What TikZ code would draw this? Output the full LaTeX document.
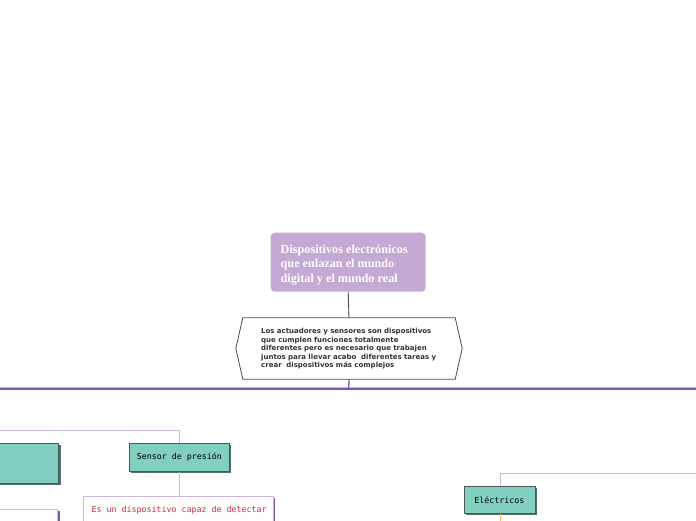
\documentclass[tikz,border=0pt]{standalone}
\usepackage{fontspec}
\setmainfont{Liberation Serif}
\newfontfamily\hexfont{DejaVu Sans}
\newfontfamily\monofont{DejaVu Sans Mono}
\usetikzlibrary{shadows}
\definecolor{rootfill}{HTML}{C3A9D4}
\definecolor{tealfill}{HTML}{80CFC1}
\definecolor{tealborder}{HTML}{4A5855}
\definecolor{tealshadow}{HTML}{56706B}
\definecolor{lav}{HTML}{CDB6E0}
\definecolor{purp}{HTML}{7E57B0}
\definecolor{hexborder}{HTML}{4A4A4A}
\definecolor{redtxt}{HTML}{D9263F}
\definecolor{orangeln}{HTML}{F6C46F}
\definecolor{darktxt}{HTML}{333333}
\tikzset{
  rootbox/.style={fill=rootfill, draw=none, rounded corners=4pt, inner sep=0pt, minimum width=155pt, minimum height=59pt},
  roottext/.style={text=white, font=\fontsize{12.2}{14.5}\selectfont\bfseries, align=left, inner sep=0pt},
  hexbox/.style={inner sep=0pt, minimum width=226pt, minimum height=61pt},
  hextext/.style={text=darktxt, font=\hexfont\fontsize{7.0}{8.5}\selectfont\bfseries, align=left, inner sep=0pt, text width=200pt},
  tealbox/.style={draw=tealborder, fill=tealfill, line width=0.8pt, inner sep=0pt, font=\monofont\fontsize{8.3}{10}\selectfont,
    drop shadow={shadow xshift=2pt, shadow yshift=-2pt, fill=tealshadow, opacity=1}},
  descbox/.style={draw=lav, fill=white, line width=0.8pt, inner sep=0pt,
    drop shadow={shadow xshift=2pt, shadow yshift=-2pt, fill=purp, opacity=1}},
  desctext/.style={text=redtxt, font=\monofont\fontsize{8.3}{12}\selectfont, inner sep=0pt},
  lavline/.style={draw=lav, line width=1pt},
  purpline/.style={draw=purp, line width=1.3pt},
  grayline/.style={draw=hexborder, line width=0.9pt},
}
\begin{document}
\begin{tikzpicture}[x=1pt,y=-1pt]
\useasboundingbox (0,0) rectangle (696,520);
\clip (0,0) rectangle (696,520);
\fill[white] (0,0) rectangle (696,520);
% root
\node[rootbox, anchor=north west] (root) at (270.5,232.5) {};
\node[roottext, anchor=base west] (roottxt) at (280.5,282) {Dispositivos electrónicos\\que enlazan el mundo\\digital y el mundo real};
% hexagon
\node[hexbox] (hex) at (349,348.5) {};
\draw[draw=hexborder, fill=white, line width=0.8pt] (hex.west) -- ([xshift=7pt]hex.north west) -- ([xshift=-7pt]hex.north east) -- (hex.east) -- ([xshift=-7pt]hex.south east) -- ([xshift=7pt]hex.south west) -- cycle;
\node[hextext, anchor=base west] (hextxt) at (261,333.5) {Los actuadores y sensores son dispositivos\\que cumplen funciones totalmente\\diferentes pero es necesario que trabajen\\juntos para llevar acabo\ \ diferentes tareas y\\crear\ \ dispositivos más complejos};
\draw[grayline] (root.south) -- (hex.north);
% bus
\coordinate (bus) at (348.7,389);
\coordinate (busL) at (0,389);
\coordinate (busR) at (696,389);
\coordinate (lavL) at (0,387.6);
\coordinate (lavR) at (696,387.6);
\draw[draw=lav, line width=0.8pt] (lavL) -- (lavR);
\draw[draw=purp, line width=1.1pt] (busL) -- (busR);
\draw[purpline] (hex.south) -- (bus);
% left teal box
\node[tealbox, anchor=north east, minimum width=80pt, minimum height=40pt] (leftteal) at (59,443) {};
% sensor de presion
\node[tealbox, anchor=north west, minimum width=100pt, minimum height=28pt] (sensor) at (129,443) {Sensor de presión};
\coordinate (c1) at (0,430.5);
\draw[lavline] (c1) -| (sensor.north);
% description box
\node[descbox, anchor=north west, minimum width=190pt, minimum height=50pt] (desc) at (83,495.5) {};
\node[desctext, anchor=base west] (desctxt) at (91.5,512.5) {Es un dispositivo capaz de detectar};
\draw[lavline] (sensor.south) -- (sensor.south |- desc.north);
% bottom-left box
\node[descbox, anchor=north east, minimum width=80pt, minimum height=40pt] (leftdesc) at (58,508.5) {};
% electricos
\node[tealbox, anchor=north west, minimum width=71pt, minimum height=27pt] (elec) at (463.5,486) {Eléctricos};
\coordinate (c2) at (696,473);
\draw[lavline] (c2) -| ([xshift=1.5pt]elec.north);
\coordinate (c3) at (500,525);
\draw[draw=orangeln, line width=1pt] ([xshift=1.5pt]elec.south) -- (c3);
\end{tikzpicture}
\end{document}
